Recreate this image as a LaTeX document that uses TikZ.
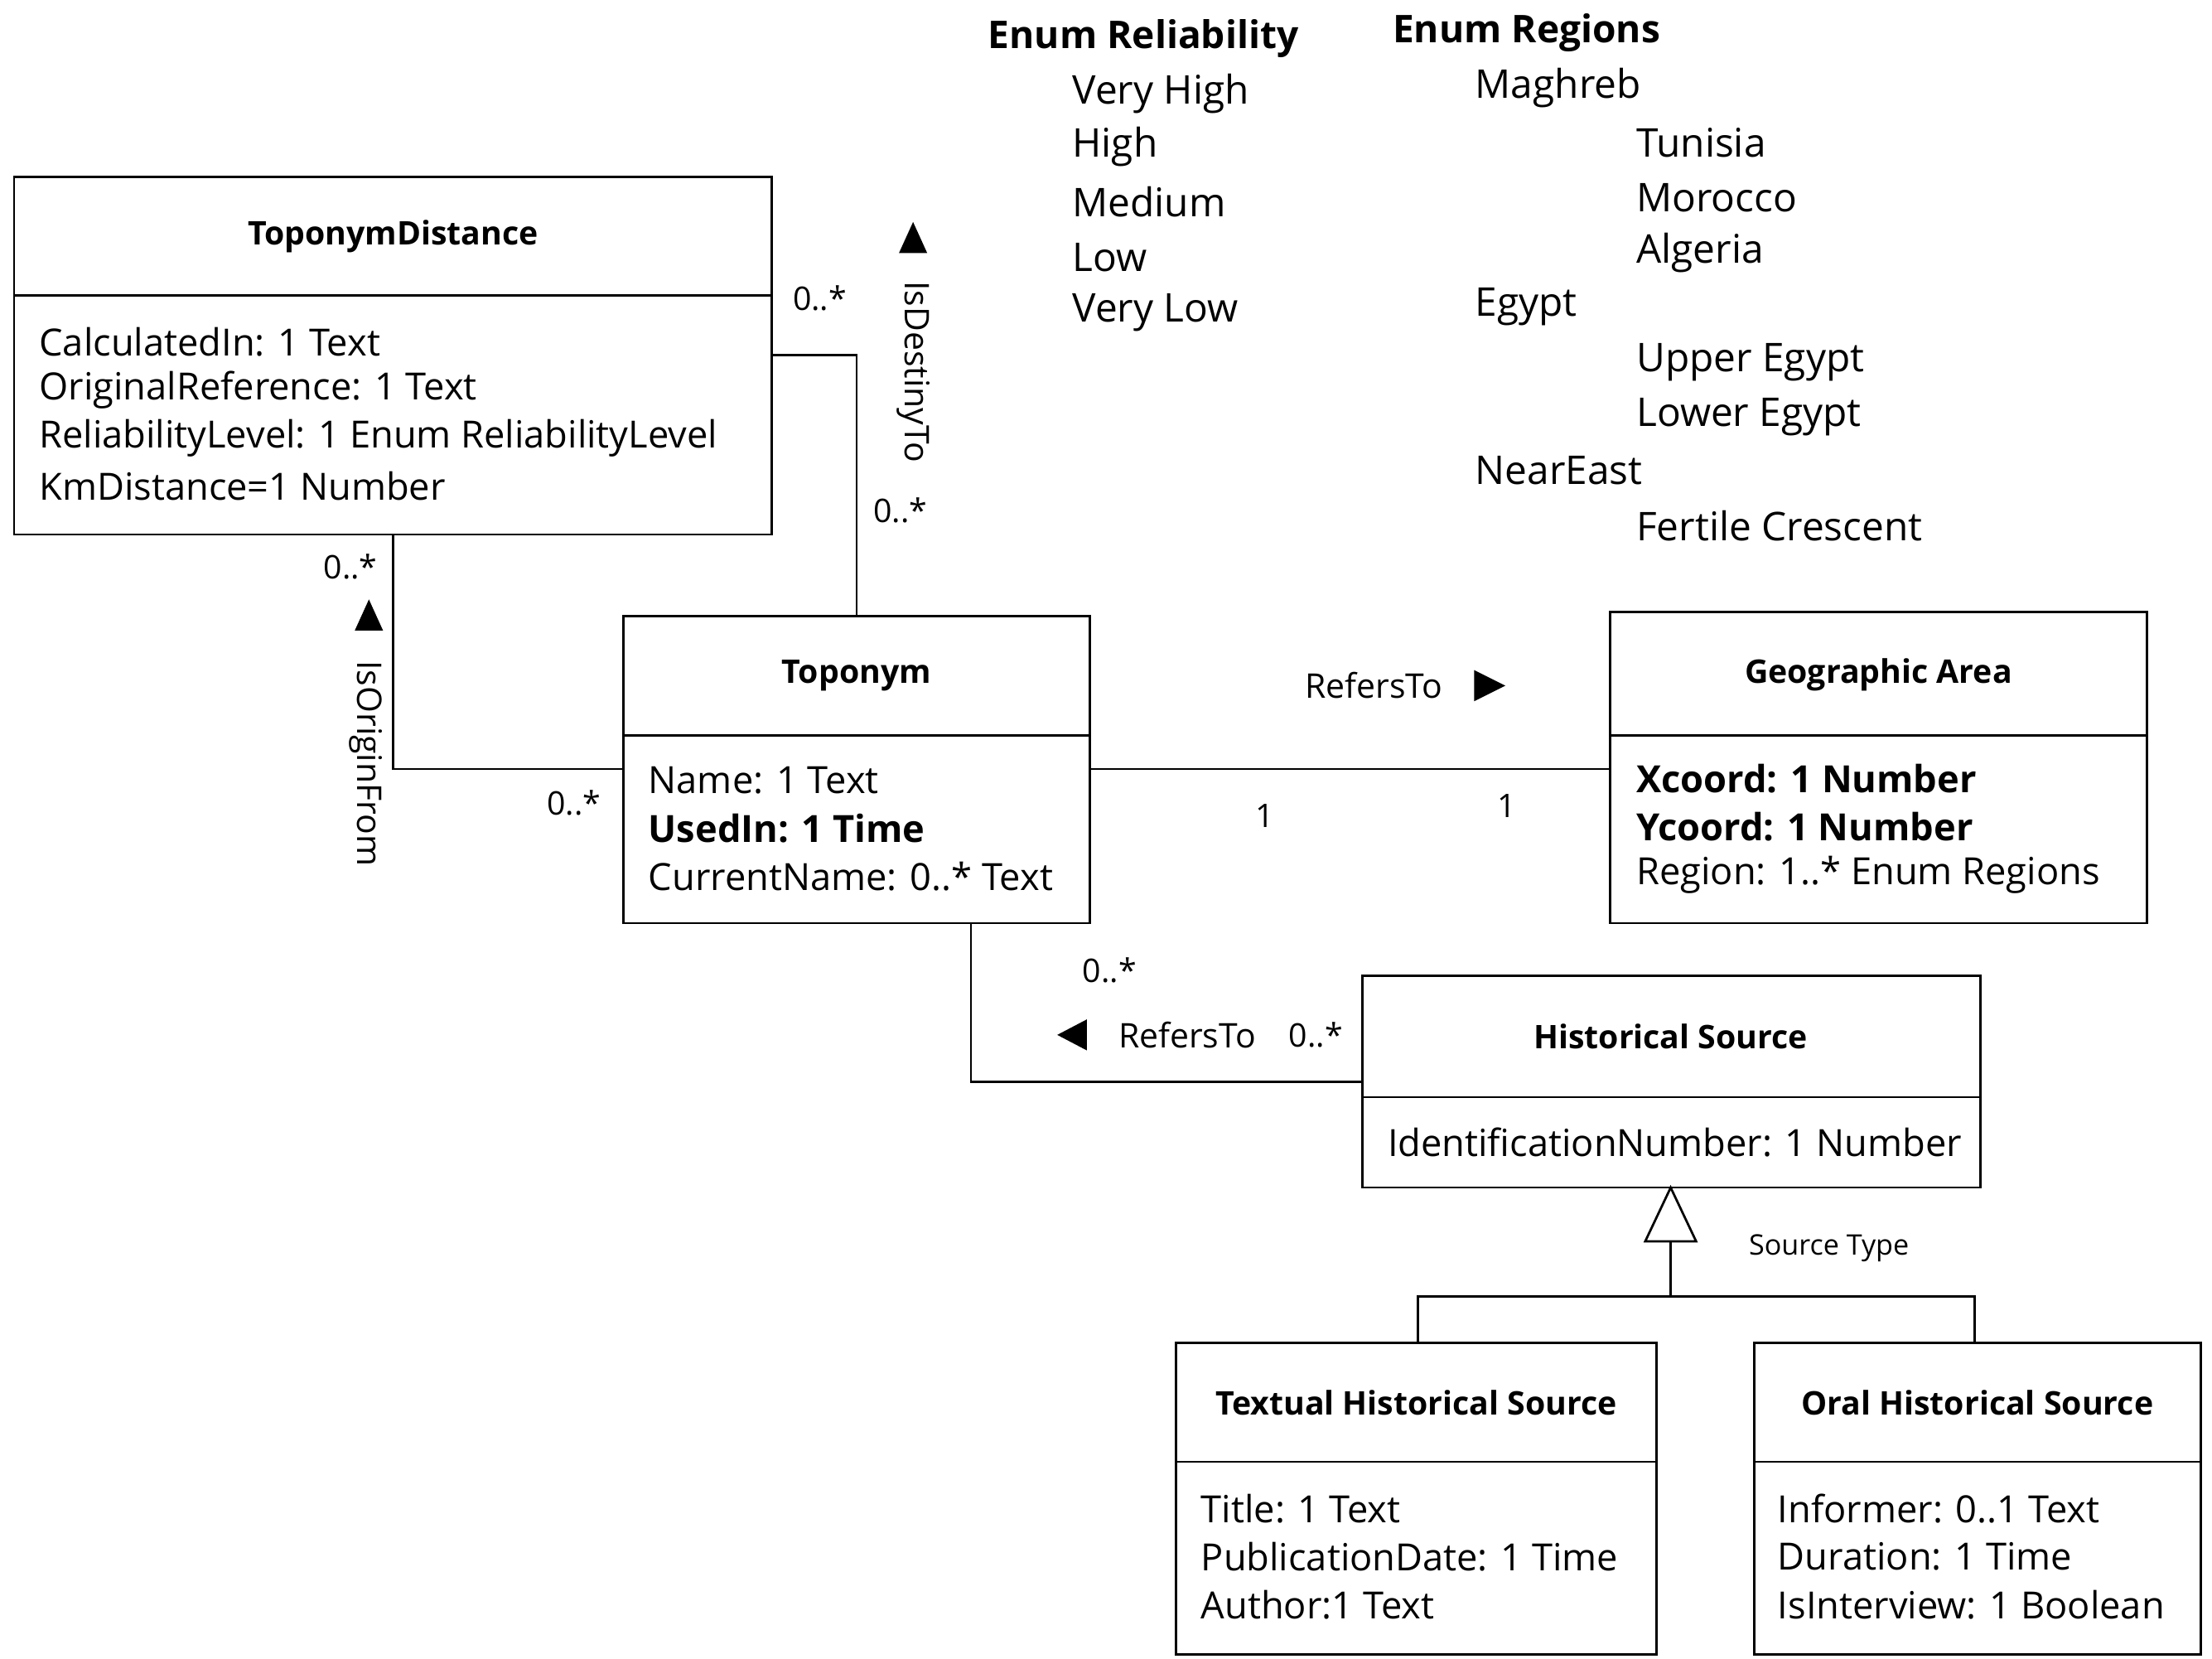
\documentclass[tikz,border=0pt]{standalone}
\usepackage{fontspec}
\setmainfont{Open Sans}
\begin{document}
\begin{tikzpicture}[x=1pt,y=-1pt,line width=1.6pt,
  box/.style={draw,line width=1.6pt},
  ttl/.style={font=\fontsize{23}{26}\selectfont\bfseries},
  att/.style={anchor=west,font=\fontsize{26.5}{30}\selectfont,inner sep=0pt},
  batt/.style={att,font=\fontsize{26.5}{30}\selectfont\bfseries},
  lab/.style={font=\fontsize{23}{26}\selectfont,inner sep=0pt},
  enm/.style={anchor=west,font=\fontsize{28}{32}\selectfont,inner sep=0pt}]
\useasboundingbox (0,0) rectangle (1565,1173);
% boxes
\draw[box] (10,125) rectangle (546,378); \draw (10,209)--(546,209);
\node[ttl] (tdT) at (278,167) {ToponymDistance};
\foreach \t/\y in {CalculatedIn: 1 Text/242,OriginalReference: 1 Text/276,ReliabilityLevel: 1 Enum ReliabilityLevel/310,KmDistance=1 Number/344}
  \node[att] at (27,\y) {\t};
\draw[box] (441,436) rectangle (771,653); \draw (441,520)--(771,520);
\node[ttl] at (606,478) {Toponym};
\node[att] at (458,552) {Name: 1 Text};
\node[batt] at (458,586) {UsedIn: 1 Time};
\node[att] at (458,620) {CurrentName: 0..* Text};
\draw[box] (1139,433) rectangle (1519,653); \draw (1139,520)--(1519,520);
\node[ttl] at (1329,477) {Geographic Area};
\node[batt] at (1157,551) {Xcoord: 1 Number};
\node[batt] at (1157,585) {Ycoord: 1 Number};
\node[att] at (1157,619) {Region: 1..* Enum Regions};
\draw[box] (964,690) rectangle (1401,840); \draw (964,776)--(1401,776);
\node[ttl] at (1182,733) {Historical Source};
\node[att] at (981,808) {IdentificationNumber: 1 Number};
\draw[box] (832,950) rectangle (1172,1170); \draw (832,1034)--(1172,1034);
\node[ttl] at (1002,992) {Textual Historical Source};
\foreach \t/\y in {Title: 1 Text/1067,PublicationDate: 1 Time/1101,Author:1 Text/1135}
  \node[att] at (849,\y) {\t};
\draw[box] (1241,950) rectangle (1557,1170); \draw (1241,1034)--(1557,1034);
\node[ttl] at (1399,992) {Oral Historical Source};
\foreach \t/\y in {Informer: 0..1 Text/1067,Duration: 1 Time/1101,IsInterview: 1 Boolean/1135}
  \node[att] at (1257,\y) {\t};
% connectors
\draw (546,251)--(606,251)--(606,436);
\draw (278,378)--(278,544)--(441,544);
\draw (771,544)--(1139,544);
\draw (687,653)--(687,765)--(964,765);
\draw (1182,840)--(1164,878)--(1200,878)--cycle;
\draw (1182,878)--(1182,917) (1003,950)--(1003,917)--(1397,917)--(1397,950);
% labels
\foreach \x/\y in {580/211,637/361,248/401,406/568,785/686,931/732}
  \node[lab] at (\x,\y) {0..*};
\node[lab] at (895,577) {1};
\node[lab] at (1066,570) {1};
\node[lab,font=\fontsize{24}{28}\selectfont,rotate=-90] at (646,263) {IsDestinyTo};
\fill (646,157)--(636,179)--(656,179)--cycle;
\node[lab,font=\fontsize{24}{28}\selectfont,rotate=-90] at (259,540) {IsOriginFrom};
\fill (261,424)--(251,446)--(271,446)--cycle;
\node[lab,font=\fontsize{24}{28}\selectfont] at (972,485) {RefersTo};
\fill (1065,485)--(1043,474)--(1043,496)--cycle;
\node[lab,font=\fontsize{24}{28}\selectfont] at (840,732) {RefersTo};
\fill (748,732)--(769,721)--(769,743)--cycle;
\node[lab,font=\fontsize{20}{23}\selectfont] at (1294,883) {Source Type};
% enums
\node[font=\fontsize{27}{30}\selectfont\bfseries] at (809,27) {Enum Reliability};
\foreach \t/\y in {Very High/66,High/104,Medium/143,Low/182,Very Low/221}
  \node[enm] at (758,\y) {\t};
\node[font=\fontsize{27}{30}\selectfont\bfseries] at (1080,23) {Enum Regions};
\foreach \t/\x/\y in {Maghreb/1043/62,Tunisia/1157/101,Morocco/1157/140,Algeria/1157/179,Egypt/1043/217,Upper Egypt/1157/256,Lower Egypt/1157/295,NearEast/1043/333,Fertile Crescent/1157/372}
  \node[enm] at (\x,\y) {\t};
\end{tikzpicture}
\end{document}
